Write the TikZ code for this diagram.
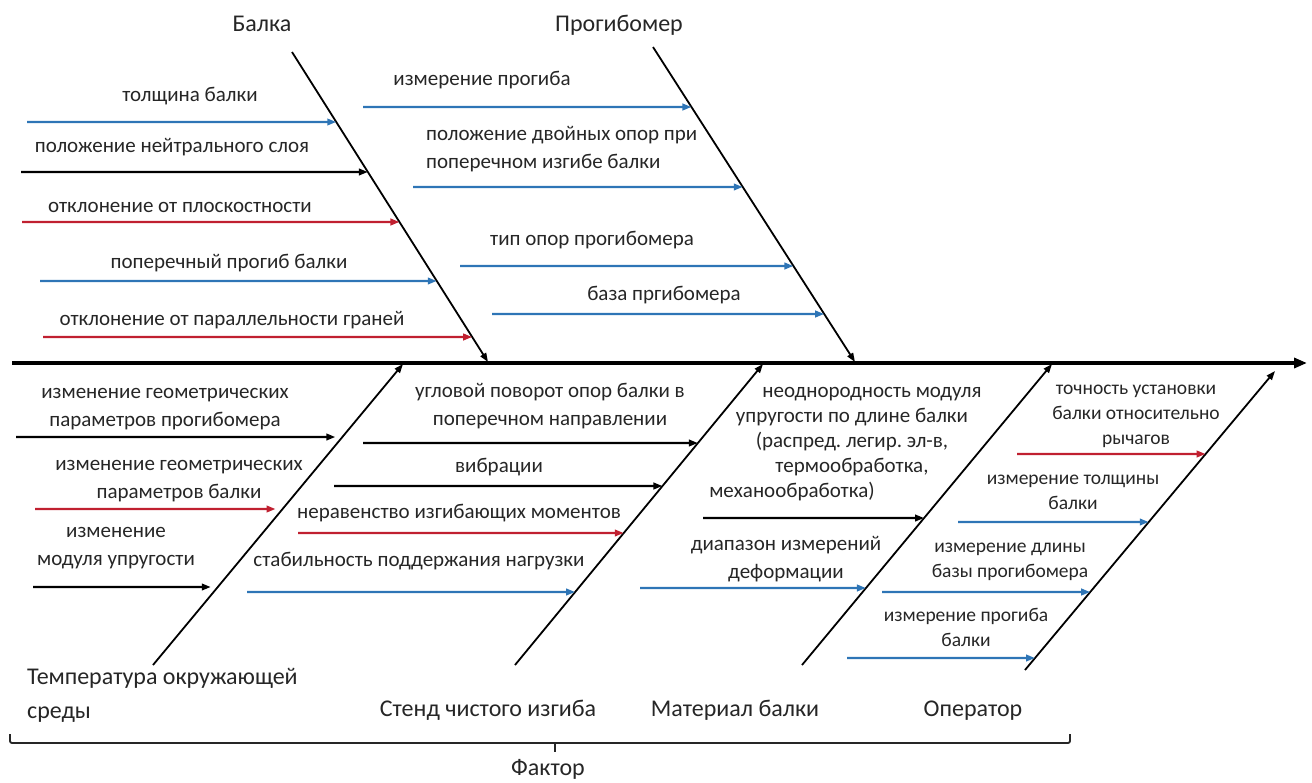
\documentclass[tikz,border=0pt]{standalone}
\usepackage{fontspec}
\setmainfont{Carlito}
\usetikzlibrary{arrows.meta,calc}
\definecolor{causeblue}{RGB}{46,117,182}
\definecolor{causered}{RGB}{192,32,48}

\begin{document}
\frenchspacing
\begin{tikzpicture}[x=1pt, y=-1pt,
		cause/.style={line width=2.2pt, -{Triangle[length=9pt,width=6.5pt]}},
		bone/.style={line width=1.8pt, -{Triangle[length=9pt,width=6.5pt]}},
		lbl/.style={anchor=base, inner sep=0pt, align=center, text=black!85, font=\fontsize{21}{28}\selectfont},
		oplbl/.style={lbl, font=\fontsize{19.5}{25}\selectfont},
		heading/.style={anchor=base, inner sep=0pt, align=center, text=black!85, font=\fontsize{24}{34}\selectfont}]
		\useasboundingbox (0,0) rectangle (1312,782);
		
		% Spine
		\coordinate (spineL) at (12,363);
		\coordinate (spineR) at (1307,363);
		\draw[line width=3.5pt, -{Triangle[length=13pt,width=10pt]}] (spineL) -- (spineR);
		
		% Bones
		\coordinate (balkaT) at (292,52);   \coordinate (balkaB) at (488,362);
		\coordinate (progT) at (653,47);    \coordinate (progB) at (855,362);
		\coordinate (tempB) at (153,665);   \coordinate (tempT) at (403,364);
		\coordinate (stendB) at (515,665);  \coordinate (stendT) at (763,364);
		\coordinate (matB) at (802,665);    \coordinate (matT) at (1052,364);
		\coordinate (operB) at (1025,670);  \coordinate (operT) at (1275,371);
		\draw[bone] (balkaT) -- (balkaB);
		\draw[bone] (progT) -- (progB);
		\draw[bone] (tempB) -- (tempT);
		\draw[bone] (stendB) -- (stendT);
		\draw[bone] (matB) -- (matT);
		\draw[bone] (operB) -- (operT);
		
		% Causes
		\foreach \y/\x/\c in {122/27/causeblue, 172/21/black, 222/22/causered, 281/40/causeblue, 337/43/causered}
			\draw[cause, \c] (\x,\y) -- ($(balkaT)!{(\y-52)/310}!(balkaB)$);
		\foreach \y/\x in {107/363, 187/413, 266/460, 314/492}
			\draw[cause, causeblue] (\x,\y) -- ($(progT)!{(\y-47)/315}!(progB)$);
		\foreach \y/\x/\c in {437/16/black, 509/35/causered, 587/33/black}
			\draw[cause, \c, shorten >=7pt] (\x,\y) -- ($(tempB)!{(665-\y)/301}!(tempT)$);
		\foreach \y/\x/\c in {443/363/black, 486/334/black, 533/298/causered, 592/247/causeblue}
			\draw[cause, \c] (\x,\y) -- ($(stendB)!{(665-\y)/301}!(stendT)$);
		\foreach \y/\x/\c in {518/703/black, 588/640/causeblue}
			\draw[cause, \c] (\x,\y) -- ($(matB)!{(665-\y)/301}!(matT)$);
		\foreach \y/\x/\c in {454/1017/causered, 522/958/causeblue, 592/882/causeblue, 658/847/causeblue}
			\draw[cause, \c] (\x,\y) -- ($(operB)!{(670-\y)/299}!(operT)$);
		
		% Headings
		\node[heading] (hBalka) at (262,31) {Балка};
		\node[heading] (hProg) at (619,31) {Прогибомер};
		\node[heading, anchor=base west, align=left] (hTemp) at (27,718) {Температура окружающей\\среды};
		\node[heading] (hStend) at (488,716) {Стенд чистого изгиба};
		\node[heading] (hMat) at (735,716) {Материал балки};
		\node[heading] (hOper) at (973,716) {Оператор};
		
		% Labels of causes
		\node[lbl] (tThick) at (190,101) {толщина балки};
		\node[lbl] (tNeutral) at (172,152) {положение нейтрального слоя};
		\node[lbl] (tPlane) at (180,212) {отклонение от плоскостности};
		\node[lbl] (tDefl) at (229,268) {поперечный прогиб балки};
		\node[lbl] (tParal) at (232,325) {отклонение от параллельности граней};
		
		\node[lbl] (pMeas) at (482,85) {измерение прогиба};
		\node[lbl, anchor=base west, align=left] (pSupp) at (426,168) {положение двойных опор при\\поперечном изгибе балки};
		\node[lbl] (pType) at (592,245) {тип опор прогибомера};
		\node[lbl] (pBase) at (664,300) {база пргибомера};
		
		\node[lbl] (eGeomP) at (165,426) {изменение геометрических\\параметров прогибомера};
		\node[lbl] (eGeomB) at (179,498) {изменение геометрических\\параметров балки};
		\node[lbl] (eModul) at (116,565) {изменение\\модуля упругости};
		
		\node[lbl] (sTurn) at (550,425) {угловой поворот опор балки в\\поперечном направлении};
		\node[lbl] (sVibr) at (499,472) {вибрации};
		\node[lbl] (sMoment) at (459,518) {неравенство изгибающих моментов};
		\node[lbl] (sLoad) at (419,566) {стабильность поддержания нагрузки};
		
		\node[lbl, font=\fontsize{21}{25}\selectfont] (mInhom) at (852,497) {\hspace*{40pt}неоднородность модуля\\упругости по длине балки\\(распред. легир. эл-в,\\термообработка,\\механообработка)\hspace*{120pt}};
		\node[lbl] (mRange) at (786,578) {диапазон измерений\\деформации};
		
		\node[oplbl] (oSet) at (1136,444) {точность установки\\балки относительно\\рычагов};
		\node[oplbl] (oThick) at (1073,509) {измерение толщины\\балки};
		\node[oplbl] (oLength) at (1010,577) {измерение длины\\базы прогибомера};
		\node[oplbl] (oDefl) at (966,646) {измерение прогиба\\балки};
		
		% Brace
		\draw[line width=1.8pt, black!85, rounded corners=2pt] (10,734) -- (10,743) -- (1070,743) -- (1070,734);
		\draw[line width=1.8pt, black!85] (555,743) -- (555,752);
		\node[heading] (factor) at (548,775) {Фактор};
	\end{tikzpicture}
\end{document}
